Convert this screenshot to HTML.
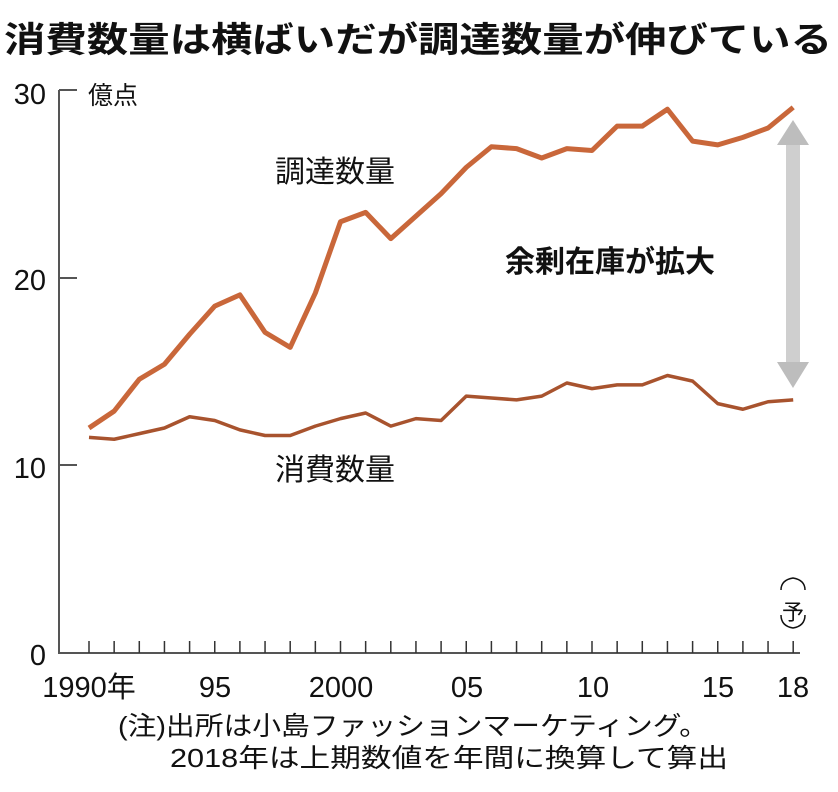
<!DOCTYPE html>
<html><head><meta charset="utf-8"><style>
body{margin:0;background:#fff;}
svg text{font-family:"Liberation Sans","Noto Sans CJK JP",sans-serif;}
</style></head><body>
<svg width="838" height="787" xmlns="http://www.w3.org/2000/svg">
<text x="4" y="52" font-size="35" font-weight="bold" fill="#111" font-family="'Noto Sans CJK JP',sans-serif" textLength="828" lengthAdjust="spacingAndGlyphs">消費数量は横ばいだが調達数量が伸びている</text>
<g stroke="#555" stroke-width="2" fill="none">
<path d="M59,90 V653 H800"/>
<path d="M59,90 H77 M59,278 H77 M59,465 H77"/>
</g>
<path stroke="#333" stroke-width="1.5" d="M89,641V653M114.15,641V653M139.3,641V653M164.45,641V653M189.6,641V653M214.75,641V653M239.9,641V653M265.05,641V653M290.2,641V653M315.35,641V653M340.5,641V653M365.65,641V653M390.8,641V653M415.95,641V653M441.1,641V653M466.25,641V653M491.4,641V653M516.55,641V653M541.7,641V653M566.85,641V653M592,641V653M617.15,641V653M642.3,641V653M667.45,641V653M692.6,641V653M717.75,641V653M742.9,641V653M768.05,641V653M793.2,641V653"/>
<g font-size="29" fill="#111">
<text x="46" y="104" text-anchor="end">30</text>
<text x="46" y="290" text-anchor="end">20</text>
<text x="46" y="478" text-anchor="end">10</text>
<text x="46" y="665" text-anchor="end">0</text>
<text x="88" y="104" font-size="25">億点</text>
<text x="89" y="697" text-anchor="middle">1990年</text>
<text x="215" y="697" text-anchor="middle">95</text>
<text x="341" y="697" text-anchor="middle">2000</text>
<text x="467" y="697" text-anchor="middle">05</text>
<text x="593" y="697" text-anchor="middle">10</text>
<text x="718" y="697" text-anchor="middle">15</text>
<text x="793" y="697" text-anchor="middle">18</text>
<text x="275" y="182" font-size="30">調達数量</text>
<text x="275" y="480" font-size="30">消費数量</text>
<text x="505" y="272" font-size="30" font-weight="bold">余剰在庫が拡大</text>
<text x="118" y="735" font-size="26" textLength="590" lengthAdjust="spacingAndGlyphs">(注)出所は小島ファッションマーケティング。</text>
<text x="170" y="767" font-size="26" textLength="558" lengthAdjust="spacingAndGlyphs">2018年は上期数値を年間に換算して算出</text>
<text x="793" y="620" font-size="22" text-anchor="middle">予</text>
</g>
<path d="M781,590 Q781,580 793,578 Q805,580 805,590 M781,615 Q781,626 793,628 Q805,626 805,615" stroke="#111" stroke-width="1.5" fill="none"/>
<g>
<rect x="786" y="138" width="14" height="234" fill="#cfcfcf"/>
<polygon points="793,120 777,145 809,145" fill="#bdbdbd"/>
<polygon points="793,388 777,362 809,362" fill="#bdbdbd"/>
</g>
<polyline id="up" fill="none" stroke="#c9673a" stroke-width="5" stroke-linejoin="round"/>
<polyline id="lo" fill="none" stroke="#a8532e" stroke-width="3.5" stroke-linejoin="round"/>
<script>
var up=[12.0,12.9,14.6,15.4,17.0,18.5,19.1,17.1,16.3,19.2,23.0,23.5,22.1,23.3,24.5,25.9,27.0,26.9,26.4,26.9,26.8,28.1,28.1,29.0,27.3,27.1,27.5,28.0,29.1];
var lo=[11.5,11.4,11.7,12.0,12.6,12.4,11.9,11.6,11.6,12.1,12.5,12.8,12.1,12.5,12.4,13.7,13.6,13.5,13.7,14.4,14.1,14.3,14.3,14.8,14.5,13.3,13.0,13.4,13.5];
function X(i){return 89+25.15*i}function Y(v){return 653-18.75*v}
document.getElementById('up').setAttribute('points',up.map(function(v,i){return X(i)+','+Y(v)}).join(' '));
document.getElementById('lo').setAttribute('points',lo.map(function(v,i){return X(i)+','+Y(v)}).join(' '));
</script>
</svg>
</body></html>
